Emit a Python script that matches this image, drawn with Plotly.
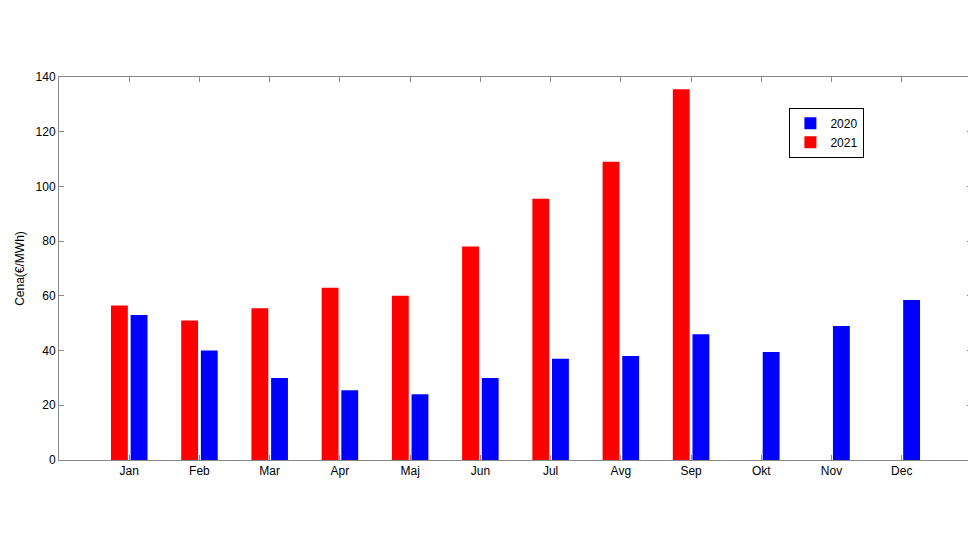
import plotly.graph_objects as go

months = ["Jan","Feb","Mar","Apr","Maj","Jun","Jul","Avg","Sep","Okt","Nov","Dec"]
v2020 = [53, 40, 30, 25.5, 24, 30, 37, 38, 46, 39.5, 49, 58.5]
v2021 = [56.5, 51, 55.5, 63, 60, 78, 95.5, 109, 135.5, None, None, None]
x = list(range(len(months)))

fig = go.Figure()
fig.add_trace(go.Bar(x=x, y=v2020, name="2020", marker_color="#0000ff",
                     width=0.24, offset=0.02, marker_line_width=0))
fig.add_trace(go.Bar(x=x, y=v2021, name="2021", marker_color="#ff0000",
                     width=0.24, offset=-0.26, marker_line_width=0))
fig.update_layout(
    width=976, height=549, plot_bgcolor="white", paper_bgcolor="white",
    font=dict(family="Liberation Sans, Arial", size=12, color="black"),
    margin=dict(l=47, r=11, t=69, b=97),
    barmode="overlay",
    legend=dict(x=0.8, y=0.92, xanchor="left", yanchor="top",
                bordercolor="black", borderwidth=1, bgcolor="white",
                traceorder="normal", font=dict(size=12), itemwidth=30,
                tracegroupgap=0),
    xaxis=dict(range=[-1, 12], tickvals=x, ticktext=months, showgrid=False,
               showline=True, linecolor="#888", mirror="ticks", ticks="inside",
               ticklen=5, tickcolor="#888", zeroline=False),
    yaxis=dict(range=[0, 140], dtick=20, showgrid=False, showline=True,
               linecolor="#888", mirror="ticks", ticks="inside", ticklen=5,
               tickcolor="#888", zeroline=False,
               title=dict(text="Cena(€/MWh)", standoff=8, font=dict(size=12))),
)
fig.write_html("out.html")
